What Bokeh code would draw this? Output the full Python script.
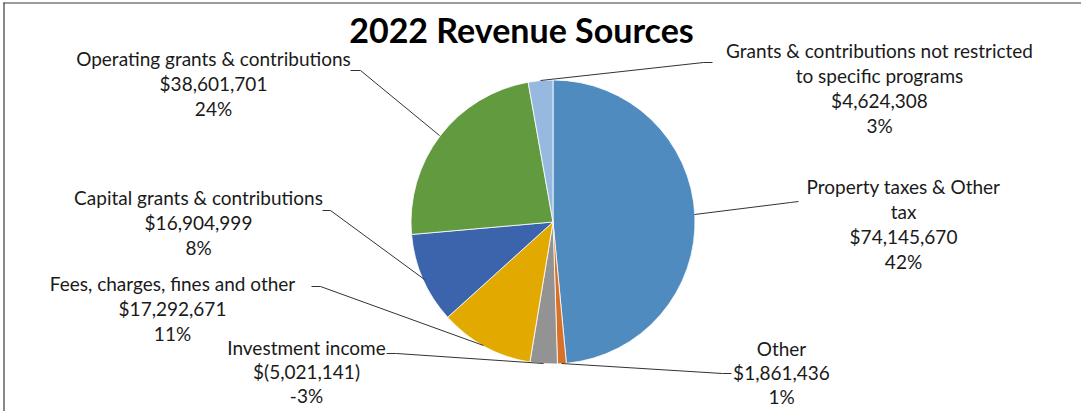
import math
from bokeh.plotting import figure
from bokeh.models import Range1d, ColumnDataSource
from bokeh.core.properties import value
from bokeh.embed import file_html
from bokeh.resources import INLINE

# ---------------- data ----------------
categories = [
    "Property taxes & Other tax",
    "Other",
    "Investment income",
    "Fees, charges, fines and other",
    "Capital grants & contributions",
    "Operating grants & contributions",
    "Grants & contributions not restricted to specific programs",
]
amounts = [74145670, 1861436, -5021141, 17292671, 16904999, 38601701, 4624308]
pct_labels = ["42%", "1%", "-3%", "11%", "8%", "24%", "3%"]
# share of the drawn pie (percent), clockwise from 12 o'clock
slice_share = [48.5, 1.0, 3.1, 10.7, 10.3, 23.6, 2.8]
colors = ["#4F8BBF", "#D6712A", "#939393", "#E2AA00", "#3B64AD", "#629A3F", "#97B9E0"]
title = "2022 Revenue Sources"

# ---------------- layout (pixel coordinates of the reference) ----------------
FW, FH = 1081, 411          # figure size (fits the window with the page margin)
DY = -3                     # small upward shift so the bottom labels are not clipped
FONT = "Lato"
label_lines_name = {
    0: ["Property taxes & Other", "tax"],
    6: ["Grants & contributions not restricted", "to specific programs"],
}
label_pos = [(903, 189), (781, 351), (306, 350), (172, 286), (198, 200), (213, 61), (879, 53)]
line_gaps = [25, 24, 24, 25, 25, 25, 25]
leaders = [
    [(694, 217), (790, 205), (798, 204)],
    [(561, 366), (722, 376), (731, 376)],
    [(386, 356), (396, 356), (543, 366)],
    [(311, 289), (320, 289), (483, 348)],
    [(322, 213), (330, 213), (424, 282)],
    [(350, 73), (360, 73), (439, 138)],
    [(540, 83), (703, 65), (712, 65)],
]
CX, CY, R = 552.5, 224.5, 142


def Y(ypx):
    return FH - (ypx + DY)


def money(v):
    return "$({:,})".format(-v) if v < 0 else "${:,}".format(v)


p = figure(width=FW, height=FH, output_backend="svg", toolbar_location=None,
           x_range=Range1d(0, FW), y_range=Range1d(0, FH), min_border=0,
           outline_line_color=None, background_fill_color="white",
           border_fill_color="white")
p.axis.visible = False
p.grid.visible = False

# pie wedges
total = sum(slice_share)
starts, ends = [], []
cum = 0.0
for s in slice_share:
    a0 = math.pi / 2 - 2 * math.pi * cum / total
    cum += s
    a1 = math.pi / 2 - 2 * math.pi * cum / total
    starts.append(a1)
    ends.append(a0)
src = ColumnDataSource(dict(start=starts, end=ends, color=colors, cat=categories))
p.wedge(x=CX, y=Y(CY), radius=R, start_angle="start", end_angle="end",
        fill_color="color", line_color="white", line_width=0.8, source=src)

# leader lines
p.multi_line(xs=[[pt[0] for pt in l] for l in leaders],
             ys=[[Y(pt[1]) for pt in l] for l in leaders],
             line_color="#333333", line_width=1)

# data labels
tx, ty, tt = [], [], []
for i, cat in enumerate(categories):
    lines = label_lines_name.get(i, [cat]) + [money(amounts[i]), pct_labels[i]]
    x0, y0 = label_pos[i]
    for k, ln in enumerate(lines):
        tx.append(x0)
        ty.append(Y(y0 + k * line_gaps[i]))
        tt.append(ln)
p.text(x=tx, y=ty, text=tt, text_font=value(FONT), text_font_size="19px",
       text_align="center", text_baseline="middle", text_color="#1a1a1a")

# title
p.text(x=[521], y=[Y(32)], text=[title], text_font=value(FONT), text_font_size="34px",
       text_font_style="bold", text_align="center", text_baseline="middle",
       text_color="#000000")

# chart area border (top and left visible in the reference)
p.segment(x0=[3, 3.5], y0=[Y(5.5), Y(5)], x1=[FW, 3.5], y1=[Y(5.5), 0],
          line_color="#3a3a3a", line_width=1.2)

open("out.html", "w").write(file_html(p, INLINE))
